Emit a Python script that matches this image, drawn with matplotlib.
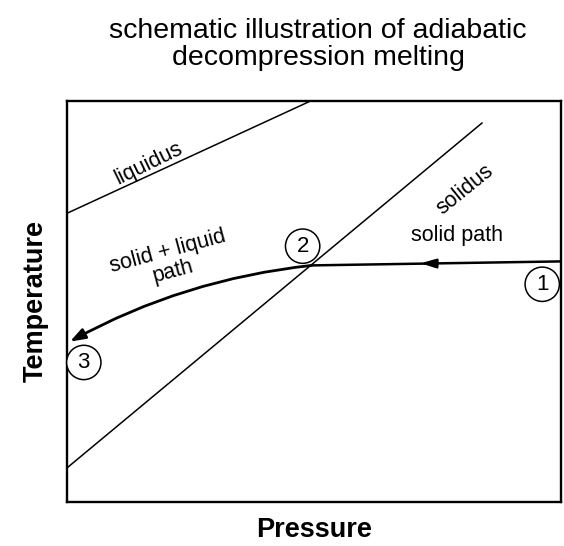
import matplotlib
matplotlib.use("Agg")
import matplotlib.pyplot as plt

plt.rcParams['font.family'] = ['Liberation Sans', 'DejaVu Sans']

# phase boundaries (schematic units)
liquidus_x = [0, 4.93]
liquidus_y = [7.2, 10.0]
solidus_x = [0, 8.4]
solidus_y = [0.85, 9.45]

# melting path: 1 -> 2 (solid), 2 -> 3 (solid + liquid)
path_x = [10.0, 4.95, 0.06]
path_y = [6.0, 5.9, 4.0]
arrow_x = 7.4

# circled stage numbers
stage_labels = ['1', '2', '3']
stage_x = [9.62, 4.77, 0.34]
stage_y = [5.43, 6.38, 3.48]

fig = plt.figure(figsize=(5.64, 5.46), dpi=100)
ax = fig.add_axes([67 / 564, 44 / 546, 494 / 564, 401 / 546])
ax.set_xlim(0, 10)
ax.set_ylim(0, 10)
ax.set_xticks([])
ax.set_yticks([])
for s in ax.spines.values():
    s.set_linewidth(1.7)

ax.plot(liquidus_x, liquidus_y, color='black', lw=1.1)
ax.plot(solidus_x, solidus_y, color='black', lw=1.1)

# solid path with arrow head in the middle
ax.plot(path_x[:2], path_y[:2], color='black', lw=1.8)
frac = (path_x[0] - arrow_x) / (path_x[0] - path_x[1])
ay = path_y[0] + frac * (path_y[1] - path_y[0])
ax.annotate('', xy=(arrow_x - 0.3, ay + 0.006), xytext=(arrow_x, ay),
            arrowprops=dict(arrowstyle='-|>,head_length=0.9,head_width=0.27',
                            color='black', lw=1.8))

# solid + liquid path, curved
ax.annotate('', xy=(path_x[2], path_y[2]), xytext=(path_x[1], path_y[1]),
            arrowprops=dict(arrowstyle='-|>,head_length=0.9,head_width=0.32',
                            connectionstyle='arc3,rad=0.1',
                            color='black', lw=2.0, shrinkA=0, shrinkB=0))

for lab, x, y in zip(stage_labels, stage_x, stage_y):
    ax.text(x, y, lab, fontsize=16, ha='center', va='center', zorder=5,
            bbox=dict(boxstyle='circle,pad=0.3', fc='white', ec='black', lw=1.1))

ax.text(1.66, 8.45, 'liquidus', fontsize=15.5, rotation=26, ha='center', va='center')
ax.text(8.05, 7.8, 'solidus', fontsize=15.5, rotation=39, ha='center', va='center')
ax.text(2.09, 6.0, 'solid + liquid\npath', fontsize=15.5, rotation=15,
        ha='center', va='center', linespacing=0.95)
ax.text(7.89, 6.65, 'solid path', fontsize=15.5, ha='center', va='center')

ax.set_xlabel('Pressure', fontsize=19.5, fontweight='bold', labelpad=11)
ax.set_ylabel('Temperature', fontsize=19.5, fontweight='bold', labelpad=13)

fig.text(0.564, 0.918, 'schematic illustration of adiabatic\ndecompression melting',
         fontsize=20.5, ha='center', va='center', linespacing=1.05)

fig.savefig('out.png', dpi=100, facecolor='white')
